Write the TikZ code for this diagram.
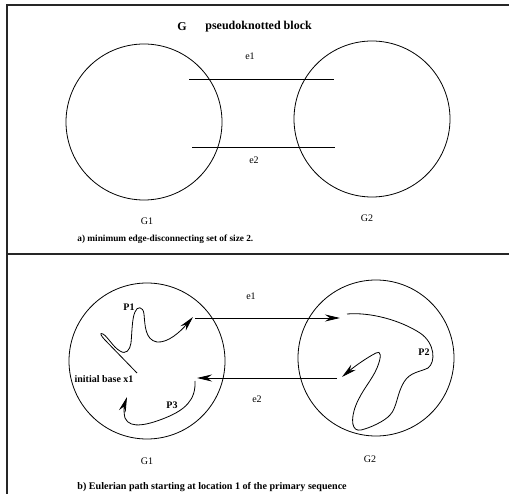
\documentclass[tikz,border=0pt]{standalone}
\usepackage{fontspec}
\setmainfont{Liberation Serif}
\usetikzlibrary{arrows.meta}

\begin{document}
\begin{tikzpicture}[
  x=1pt, y=-1pt,
  line width=0.8pt,
  part/.style={draw, circle, minimum size=156pt, inner sep=0pt},
  lbl/.style={inner sep=0pt, font=\fontsize{10}{12}\selectfont},
  blbl/.style={inner sep=0pt, font=\fontsize{10}{12}\selectfont\bfseries},
  captxt/.style={inner sep=0pt, anchor=west, font=\fontsize{9.3}{11}\selectfont\bfseries},
  frame/.style={line width=1.3pt, black!85},
  arr/.style={-{Stealth[length=15pt,width=7pt]}}
]
\useasboundingbox (0,0) rectangle (509,494);
\draw[frame] (509,5) -- (7,5) -- (7,494);
\draw[frame] (7,254) -- (509,254);

% a) edge-disconnecting set
\node[blbl, font=\fontsize{12}{14}\selectfont\bfseries] (gsym) at (182,27) {G};
\node[blbl, anchor=west, font=\fontsize{12}{14}\selectfont\bfseries] (title) at (205,27) {pseudoknotted block};
\node[part] (g1a) at (144,122) {};
\node[part] (g2a) at (372,119) {};
\coordinate (e1a-s) at (189,79);
\coordinate (e1a-t) at (334,79);
\coordinate (e2a-s) at (192,147);
\coordinate (e2a-t) at (335,147);
\draw (e1a-s) -- (e1a-t);
\draw (e2a-s) -- (e2a-t);
\node[lbl] (le1a) at (250,56) {e1};
\node[lbl] (le2a) at (254,160) {e2};
\node[lbl] (lg1a) at (147,221) {G1};
\node[lbl] (lg2a) at (367,218) {G2};
\node[captxt] (capa) at (77,239) {a) minimum edge-disconnecting set of size 2.};

% b) Eulerian path
\node[part] (g1b) at (147,361) {};
\node[part] (g2b) at (376,358) {};
\coordinate (e1b-s) at (195,318);
\coordinate (e1b-t) at (340,318);
\coordinate (e2b-s) at (337,378);
\coordinate (e2b-t) at (197,378);
\draw[arr] (e1b-s) -- (e1b-t);
\draw[arr] (e2b-s) -- (e2b-t);
\node[lbl] (le1b) at (251,296) {e1};
\node[lbl] (le2b) at (257,399) {e2};
\node[lbl] (lg1b) at (147,461) {G1};
\node[lbl] (lg2b) at (370,459) {G2};
\node[blbl] (p1) at (129,307) {P1};
\node[blbl] (p2) at (424,352) {P2};
\node[blbl] (p3) at (172,405) {P3};
\node[blbl] (x1) at (104,379) {initial base x1};
\coordinate (start) at (137,373);
\coordinate (p3s) at (195,381);
\coordinate (p2s) at (347,314);

\draw[arr] (start) -- (105,340) .. controls (101,336) and (99,332) .. (103,334)
  .. controls (108,337) and (113,347) .. (120,351)
  .. controls (126,355) and (130,350) .. (131,343)
  .. controls (132,333) and (132,318) .. (135,312)
  .. controls (137,306) and (143,306) .. (144,314)
  .. controls (145,325) and (145,340) .. (157,342)
  .. controls (168,343) and (180,332) .. (193,317);
\draw[arr] (p2s) .. controls (370,312) and (400,320) .. (420,333)
  .. controls (435,343) and (436,362) .. (428,368)
  .. controls (420,372) and (410,372) .. (404,382)
  .. controls (397,393) and (397,408) .. (390,415)
  .. controls (385,421) and (370,428) .. (361,430)
  .. controls (352,432) and (350,420) .. (356,405)
  .. controls (362,390) and (372,380) .. (377,368)
  .. controls (382,356) and (381,350) .. (376,353)
  .. controls (368,357) and (355,366) .. (342,377);
\draw[arr] (p3s) .. controls (196,400) and (185,410) .. (165,418)
  .. controls (150,424) and (130,430) .. (125,418)
  .. controls (123,410) and (125,403) .. (127,397);
\node[captxt, font=\fontsize{10.1}{12}\selectfont\bfseries] (capb) at (77,487) {b) Eulerian path starting at location 1 of the primary sequence};
\end{tikzpicture}
\end{document}
